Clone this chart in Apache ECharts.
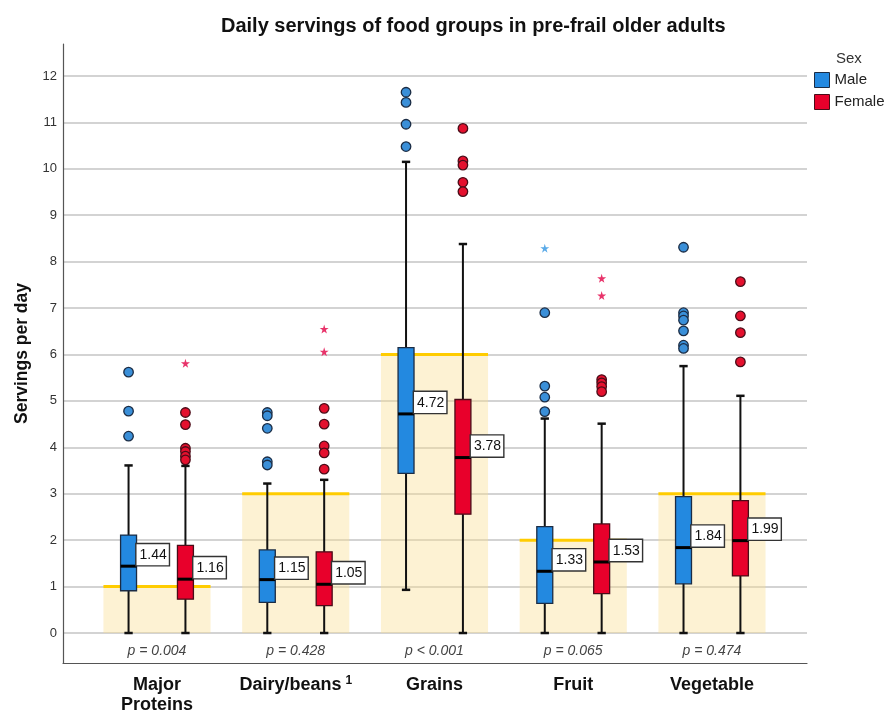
<!DOCTYPE html>
<html><head><meta charset="utf-8">
<script src="https://cdn.jsdelivr.net/npm/echarts@6/dist/echarts.min.js"></script>
<style>html,body{margin:0;padding:0;background:#fff}#c{width:884px;height:713px}</style>
</head><body><div id="c"></div>
<script>
const categories = ['Major\nProteins', 'Dairy/beans', 'Grains', 'Fruit', 'Vegetable'];
const footnotes = ['', '1', '', '', ''];
const pValues = ['p = 0.004', 'p = 0.428', 'p < 0.001', 'p = 0.065', 'p = 0.474'];
const recommended = [1, 3, 6, 2, 3];
const yTicks = [0, 1, 2, 3, 4, 5, 6, 7, 8, 9, 10, 11, 12];
// [lower whisker, Q1, median, Q3, upper whisker]
const maleBoxes = [
  [0, 0.91, 1.44, 2.11, 3.61],
  [0, 0.66, 1.15, 1.79, 3.22],
  [0.93, 3.44, 4.72, 6.15, 10.15],
  [0, 0.64, 1.33, 2.29, 4.62],
  [0, 1.06, 1.84, 2.94, 5.75]
];
const femaleBoxes = [
  [0, 0.73, 1.16, 1.89, 3.60],
  [0, 0.59, 1.05, 1.75, 3.30],
  [0, 2.56, 3.78, 5.03, 8.38],
  [0, 0.85, 1.53, 2.35, 4.51],
  [0, 1.23, 1.99, 2.85, 5.11]
];
const maleOutliers = [
  [0, 5.62], [0, 4.78], [0, 4.24],
  [1, 4.75], [1, 4.68], [1, 4.41], [1, 3.69], [1, 3.62],
  [2, 11.65], [2, 11.43], [2, 10.96], [2, 10.48],
  [3, 6.90], [3, 5.32], [3, 5.08], [3, 4.77],
  [4, 8.31], [4, 6.90], [4, 6.83], [4, 6.74], [4, 6.51], [4, 6.20], [4, 6.13]
];
const maleExtremes = [[3, 8.29]];
const femaleOutliers = [
  [0, 4.75], [0, 4.49], [0, 3.98], [0, 3.91], [0, 3.81], [0, 3.73],
  [1, 4.84], [1, 4.50], [1, 4.03], [1, 3.88], [1, 3.53],
  [2, 10.87], [2, 10.17], [2, 10.08], [2, 9.71], [2, 9.51],
  [3, 5.46], [3, 5.39], [3, 5.31], [3, 5.20],
  [4, 7.57], [4, 6.83], [4, 6.47], [4, 5.84]
];
const femaleExtremes = [[0, 5.81], [1, 6.55], [1, 6.06], [3, 7.64], [3, 7.27]];

const MALE_OFFSET = -0.205, FEMALE_OFFSET = 0.205;
const BOX_WIDTH = 0.115, CAP_WIDTH = 0.06, REC_HALF = 0.386, P_LABEL_Y = -0.39;
const maleFill = '#2389e0', maleStroke = '#1b2c44';
const femaleFill = '#e8002b', femaleStroke = '#4a0c18';
const STAR = 'path://M50,0 L61,35 L98,35 L68,57 L79,91 L50,70 L21,91 L32,57 L2,35 L39,35 Z';
const FONT = '"Liberation Sans", Arial, sans-serif';

function boxRenderer(offset, fill, stroke) {
  return function (params, api) {
    const c = api.value(0) + offset;
    const lo = api.value(1), q1 = api.value(2), med = api.value(3), q3 = api.value(4), hi = api.value(5);
    const half = BOX_WIDTH / 2;
    const pLo = api.coord([c, lo]), pHi = api.coord([c, hi]);
    const pQ1 = api.coord([c - half, q1]), pQ3 = api.coord([c + half, q3]);
    const pMedL = api.coord([c - half, med]), pMedR = api.coord([c + half, med]);
    const capL = api.coord([c - CAP_WIDTH / 2, 0])[0], capR = api.coord([c + CAP_WIDTH / 2, 0])[0];
    const ws = { stroke: '#111', lineWidth: 2 };
    return {
      type: 'group', children: [
        { type: 'line', shape: { x1: pLo[0], y1: pLo[1], x2: pHi[0], y2: pHi[1] }, style: ws },
        { type: 'line', shape: { x1: capL, y1: pLo[1], x2: capR, y2: pLo[1] }, style: { stroke: '#111', lineWidth: 2.5 } },
        { type: 'line', shape: { x1: capL, y1: pHi[1], x2: capR, y2: pHi[1] }, style: { stroke: '#111', lineWidth: 2.5 } },
        { type: 'rect', shape: { x: pQ1[0], y: pQ3[1], width: pQ3[0] - pQ1[0], height: pQ1[1] - pQ3[1] }, style: { fill: fill, stroke: stroke, lineWidth: 1.3 } },
        { type: 'line', shape: { x1: pMedL[0], y1: pMedL[1], x2: pMedR[0], y2: pMedR[1] }, style: { stroke: '#000', lineWidth: 3 } },
        { type: 'text', x: pMedR[0], y: pMedR[1] - 1, z2: 10,
          style: { text: med.toFixed(2), font: '14px ' + FONT, fill: '#111', backgroundColor: '#fff', borderColor: '#333', borderWidth: 1.4, padding: [4, 2, 3, 3], align: 'left', verticalAlign: 'bottom' } }
      ]
    };
  };
}

const chart = echarts.init(document.getElementById('c'), null, { renderer: 'canvas' });
chart.setOption({
  animation: false,
  backgroundColor: '#fff',
  textStyle: { fontFamily: FONT },
  title: [
    { text: 'Daily servings of food groups in pre-frail older adults', left: 216, top: 11,
      textStyle: { fontSize: 20, fontWeight: 'bold', color: '#111', fontFamily: FONT } },
    { text: 'Sex', left: 831, top: 46, textStyle: { fontSize: 15, fontWeight: 'normal', color: '#333', fontFamily: FONT } }
  ],
  legend: {
    orient: 'vertical', left: 809, top: 67, itemWidth: 15, itemHeight: 15, itemGap: 6,
    icon: 'rect', selectedMode: false,
    textStyle: { fontSize: 15, color: '#222', fontFamily: FONT },
    data: [
      { name: 'Male', itemStyle: { color: maleFill, borderColor: maleStroke, borderWidth: 1 } },
      { name: 'Female', itemStyle: { color: femaleFill, borderColor: femaleStroke, borderWidth: 1 } }
    ]
  },
  grid: { left: 63, right: 77, top: 44, bottom: 50, containLabel: false, outerBoundsMode: 'none' },
  xAxis: {
    type: 'value', min: -0.6775, max: 4.685,
    splitLine: { show: false }, axisTick: { show: false },
    axisLine: { show: true, onZero: false, lineStyle: { color: '#555', width: 1.2 } },
    axisLabel: {
      customValues: [0, 1, 2, 3, 4], margin: 12, fontSize: 18, fontWeight: 'bold', color: '#111',
      lineHeight: 20, fontFamily: FONT,
      formatter: function (v) {
        const i = Math.round(v);
        return footnotes[i] ? categories[i] + '{sup|' + footnotes[i] + '}' : categories[i];
      },
      rich: { sup: { fontSize: 12, fontWeight: 'bold', color: '#111', verticalAlign: 'top', padding: [0, 0, 8, 4], fontFamily: FONT } }
    }
  },
  yAxis: {
    type: 'value', min: -0.646, max: 12.689,
    name: 'Servings per day', nameLocation: 'middle', nameGap: 32,
    nameTextStyle: { fontSize: 17.5, fontWeight: 'bold', color: '#111', fontFamily: FONT },
    axisLine: { show: true, onZero: false, lineStyle: { color: '#555', width: 1.2 } },
    axisTick: { show: false, customValues: yTicks },
    axisLabel: { customValues: yTicks, fontSize: 13, color: '#333', margin: 6, fontFamily: FONT },
    splitLine: { show: true, lineStyle: { color: '#c4c4c4', width: 1.5 } }
  },
  series: [
    {
      type: 'custom', name: 'Recommended', z: 1, silent: true,
      data: recommended.map((r, i) => [i, r]),
      encode: { x: 0, y: 1 },
      renderItem: function (params, api) {
        const i = api.value(0), r = api.value(1);
        const tl = api.coord([i - REC_HALF, r]), br = api.coord([i + REC_HALF, 0]);
        return { type: 'group', children: [
          { type: 'rect', shape: { x: tl[0], y: tl[1], width: br[0] - tl[0], height: br[1] - tl[1] }, style: { fill: 'rgba(249,222,140,0.38)' } },
          { type: 'line', shape: { x1: tl[0], y1: tl[1], x2: br[0], y2: tl[1] }, style: { stroke: '#ffcc00', lineWidth: 3 } }
        ] };
      }
    },
    {
      type: 'custom', name: 'Male', z: 3, itemStyle: { color: maleFill },
      data: maleBoxes.map((b, i) => [i].concat(b)),
      encode: { x: 0, y: [1, 2, 3, 4, 5] },
      renderItem: boxRenderer(MALE_OFFSET, maleFill, maleStroke)
    },
    {
      type: 'custom', name: 'Female', z: 3, itemStyle: { color: femaleFill },
      data: femaleBoxes.map((b, i) => [i].concat(b)),
      encode: { x: 0, y: [1, 2, 3, 4, 5] },
      renderItem: boxRenderer(FEMALE_OFFSET, femaleFill, femaleStroke)
    },
    {
      type: 'scatter', name: 'Male', z: 4, symbol: 'circle', symbolSize: 9.5,
      itemStyle: { color: '#3a8fd8', borderColor: maleStroke, borderWidth: 1.3, opacity: 1 },
      data: maleOutliers.map(d => [d[0] + MALE_OFFSET, d[1]])
    },
    {
      type: 'scatter', name: 'Female', z: 4, symbol: 'circle', symbolSize: 9.5,
      itemStyle: { color: '#e4102e', borderColor: femaleStroke, borderWidth: 1.3, opacity: 1 },
      data: femaleOutliers.map(d => [d[0] + FEMALE_OFFSET, d[1]])
    },
    {
      type: 'scatter', name: 'Male', z: 4, symbol: STAR, symbolSize: 9,
      itemStyle: { color: '#5aaae8', opacity: 1 },
      data: maleExtremes.map(d => [d[0] + MALE_OFFSET, d[1]])
    },
    {
      type: 'scatter', name: 'Female', z: 4, symbol: STAR, symbolSize: 9,
      itemStyle: { color: '#e8336a', opacity: 1 },
      data: femaleExtremes.map(d => [d[0] + FEMALE_OFFSET, d[1]])
    },
    {
      type: 'custom', name: 'pvalues', z: 5, silent: true,
      data: pValues.map((p, i) => [i, P_LABEL_Y]),
      encode: { x: 0, y: 1 },
      renderItem: function (params, api) {
        const pt = api.coord([api.value(0), api.value(1)]);
        return { type: 'text', x: pt[0], y: pt[1],
          style: { text: pValues[params.dataIndex], font: 'italic 14px ' + FONT, fill: '#444', align: 'center', verticalAlign: 'middle' } };
      }
    }
  ]
});
</script></body></html>
